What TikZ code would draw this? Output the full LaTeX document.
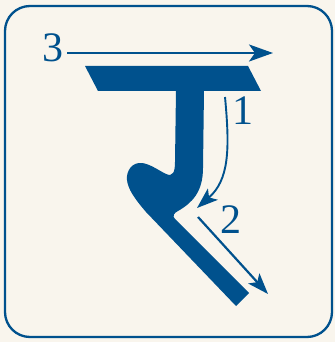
\documentclass[tikz,border=0pt]{standalone}
\usepackage{fontspec}
\setmainfont{Liberation Serif}
\usetikzlibrary{arrows.meta}
\definecolor{inkblue}{RGB}{0,81,141}
\definecolor{cream}{RGB}{249,245,237}
\begin{document}
\begin{tikzpicture}[x=1pt,y=-1pt,
  glyph/.style={fill=inkblue},
  strokearrow/.style={draw=inkblue,line width=2.2pt,-{Stealth[length=21pt,width=15pt,inset=5pt]}},
  numlabel/.style={text=inkblue,inner sep=0pt,font=\fontsize{42}{42}\selectfont}]
\fill[cream] (0,0) rectangle (335,342);
\useasboundingbox (0,0) rectangle (335,342);
\draw[inkblue,line width=2.3pt,rounded corners=25pt] (5,6) rectangle (332,337);
% head bar
\fill[glyph] (85,66) -- (248,66) -- (261,91) -- (98,91) -- cycle;
% body
\fill[glyph] (176,90) -- (175,162)
  .. controls (175,172) and (173,177) .. (166,174)
  .. controls (158,170) and (150,164) .. (142,163)
  .. controls (132,162) and (126,171) .. (127,180)
  .. controls (128,189) and (134,198) .. (146,212)
  -- (236,306) -- (249,293) -- (175,219)
  .. controls (172,216) and (174,213) .. (178,211)
  .. controls (192,203) and (203,192) .. (203,168)
  -- (204,90) -- cycle;
% arrows
\coordinate (a1s) at (225,97);
\coordinate (a1e) at (197,208);
\coordinate (a2s) at (198,217);
\coordinate (a2e) at (268,294);
\coordinate (a3s) at (67,53);
\coordinate (a3e) at (273,53);
\draw[strokearrow,line width=1.9pt] (a1s) .. controls (230,150) and (229,180) .. (a1e);
\draw[strokearrow] (a2s) -- (a2e);
\draw[strokearrow,line width=2.6pt,-{Stealth[length=24pt,width=17pt,inset=6pt]}] (a3s) -- (a3e);
\node[numlabel] (n1) at (243,111) {1};
\node[numlabel] (n2) at (231,220) {2};
\node[numlabel] (n3) at (53,48) {3};
\end{tikzpicture}
\end{document}
